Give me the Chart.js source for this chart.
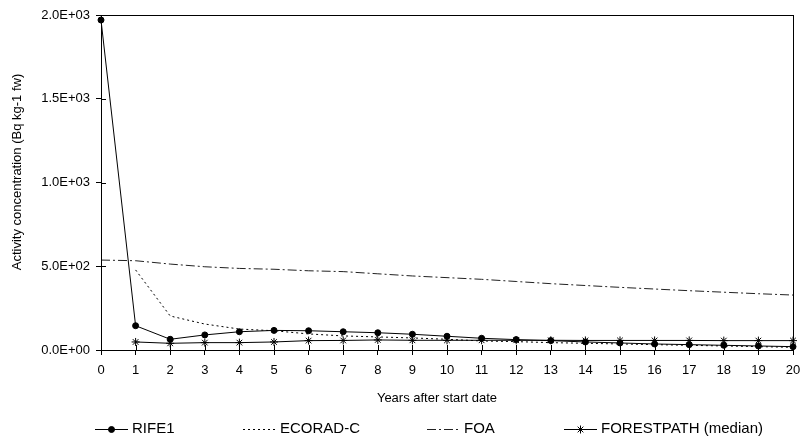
<!DOCTYPE html>
<html>
<head>
<meta charset="utf-8">
<script src="https://cdn.jsdelivr.net/npm/chart.js@4/dist/chart.umd.min.js"></script>
<style>
    body { margin: 0; background: #fff; }
    canvas { display: block; }
</style>
</head>
<body>
<canvas id="miGrafico" width="803" height="443"></canvas>
<script>
// Años después de la fecha de inicio
const anios = ['0', '1', '2', '3', '4', '5', '6', '7', '8', '9', '10',
    '11', '12', '13', '14', '15', '16', '17', '18', '19', '20'];

// Valores (Bq kg-1 fw)
const rife1 = [1970, 145, 64, 90, 109, 117, 115, 109, 103, 94, 82,
    70, 62, 56, 48, 42, 36, 32, 28, 24, 20];
const ecoradC = [null, 478, 203, 155, 125, 115, 96, 84, 78, 72, 64,
    54, 50, 44, 40, 36, 32, 28, 24, 20, 16];
const foa = [537, 533, 513, 497, 487, 482, 473, 468, 455, 442, 432,
    422, 409, 396, 385, 374, 364, 354, 345, 336, 328];
const forestpath = [null, 48, 40, 44, 44, 48, 56, 57, 60, 58, 58,
    58, 58, 58, 57, 57, 57, 57, 56, 56, 56];

const ticksY = [0, 500, 1000, 1500, 2000];

const fuente = 'Arial, "Liberation Sans", sans-serif';

// 2000 -> 2.0E+03
function formatoCientifico(v) {
    const partes = Number(v).toExponential(1).split('e');
    const exp = parseInt(partes[1], 10);
    return partes[0] + 'E' + (exp < 0 ? '-' : '+') + String(Math.abs(exp)).padStart(2, '0');
}

// Marco, marcas interiores, títulos de ejes y leyenda
const marcoPlugin = {
    id: 'marco',
    afterDraw(chart) {
        const { ctx, chartArea: a, scales } = chart;
        const x = scales.x, y = scales.y;
        ctx.save();
        ctx.strokeStyle = '#000';
        ctx.lineWidth = 1;
        ctx.setLineDash([]);
        ctx.strokeRect(Math.round(a.left) + 0.5, Math.round(a.top) + 0.5,
            Math.round(a.right - a.left), Math.round(a.bottom - a.top));

        ctx.beginPath();
        x.ticks.forEach((t, i) => {
            const px = Math.round(x.getPixelForTick(i)) + 0.5;
            ctx.moveTo(px, a.bottom);
            ctx.lineTo(px, a.bottom - 5);
        });
        y.ticks.forEach((t, i) => {
            const py = Math.round(y.getPixelForTick(i)) + 0.5;
            ctx.moveTo(a.left, py);
            ctx.lineTo(a.left + 5, py);
        });
        ctx.stroke();

        // títulos
        ctx.fillStyle = '#000';
        ctx.font = '13px ' + fuente;
        ctx.textAlign = 'center';
        ctx.textBaseline = 'middle';
        ctx.fillText('Years after start date', 437, 398);
        ctx.save();
        ctx.translate(17, 172);
        ctx.rotate(-Math.PI / 2);
        ctx.fillText('Activity concentration (Bq kg-1 fw)', 0, 0);
        ctx.restore();

        // leyenda
        const inicios = [95, 243, 427, 564];
        const yl = 429;
        ctx.font = '15px ' + fuente;
        chart.data.datasets.forEach((ds, i) => {
            const sx = inicios[i];
            ctx.strokeStyle = ds.borderColor;
            ctx.lineWidth = ds.borderWidth;
            ctx.setLineDash(ds.borderDash || []);
            ctx.beginPath();
            ctx.moveTo(sx, yl + 0.5);
            ctx.lineTo(sx + 33, yl + 0.5);
            ctx.stroke();
            ctx.setLineDash([]);
            if (ds.pointRadius > 0) {
                ctx.fillStyle = ds.pointBackgroundColor;
                ctx.strokeStyle = ds.pointBorderColor;
                ctx.lineWidth = 1;
                Chart.helpers.drawPoint(ctx, {
                    pointStyle: ds.pointStyle, rotation: 0,
                    radius: ds.pointRadius, borderWidth: 1
                }, sx + 16.5, yl + 0.5);
            }
            ctx.fillStyle = '#000';
            ctx.textAlign = 'left';
            ctx.fillText(ds.label, sx + 37, yl);
        });
        ctx.restore();
    }
};

const ctx = document.getElementById('miGrafico').getContext('2d');
const miGrafico = new Chart(ctx, {
    type: 'line',
    data: {
        labels: anios,
        datasets: [{
            label: 'RIFE1',
            data: rife1,
            borderColor: '#000',
            borderWidth: 1,
            pointStyle: 'circle',
            pointRadius: 3,
            pointBackgroundColor: '#000',
            pointBorderColor: '#000'
        }, {
            label: 'ECORAD-C',
            data: ecoradC,
            borderColor: '#000',
            borderWidth: 1,
            borderDash: [2, 3],
            pointRadius: 0
        }, {
            label: 'FOA',
            data: foa,
            borderColor: '#222',
            borderWidth: 1,
            borderDash: [9, 3, 2, 3],
            pointRadius: 0
        }, {
            label: 'FORESTPATH (median)',
            data: forestpath,
            borderColor: '#000',
            borderWidth: 1,
            pointStyle: 'star',
            pointRadius: 4,
            pointBackgroundColor: '#000',
            pointBorderColor: '#000'
        }]
    },
    options: {
        responsive: false,
        animation: false,
        layout: { padding: { left: 0, right: 10, top: 15, bottom: 63 } },
        plugins: {
            legend: { display: false },
            tooltip: { enabled: false }
        },
        elements: { line: { tension: 0 } },
        scales: {
            x: {
                grid: { drawOnChartArea: false, color: '#000', tickLength: 5 },
                border: { color: '#000', width: 1 },
                ticks: {
                    color: '#000', padding: 8, maxRotation: 0, autoSkip: false,
                    font: { family: fuente, size: 13 }
                },
                afterFit(scale) {
                    scale.height = 30;
                    scale.paddingLeft = 0;
                    scale.paddingRight = 0;
                }
            },
            y: {
                min: 0,
                max: 2000,
                afterBuildTicks(scale) { scale.ticks = ticksY.map(v => ({ value: v })); },
                grid: { drawOnChartArea: false, color: '#000', tickLength: 5 },
                border: { color: '#000', width: 1 },
                ticks: {
                    color: '#000', padding: 6,
                    font: { family: fuente, size: 13 },
                    callback: v => formatoCientifico(v)
                },
                afterFit(scale) {
                    scale.width = 101;
                    scale.paddingTop = 0;
                    scale.paddingBottom = 0;
                }
            }
        }
    },
    plugins: [marcoPlugin]
});
</script>
</body>
</html>
